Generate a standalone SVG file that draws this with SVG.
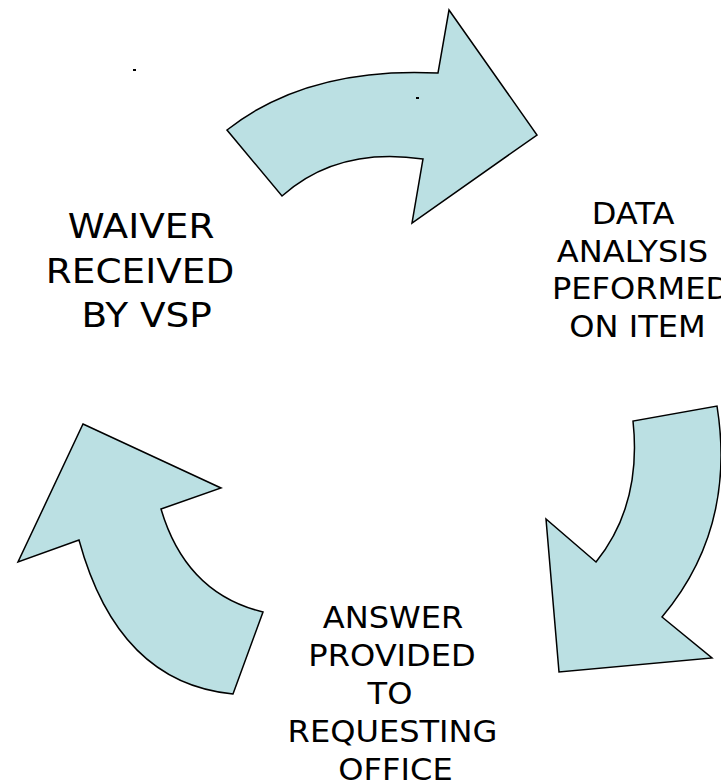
<svg xmlns="http://www.w3.org/2000/svg" width="721" height="783" viewBox="0 0 721 783">
<style>
.arrow{fill:#bbe0e3;stroke:#000;stroke-width:1.5;stroke-linejoin:miter}
.lbl{font-family:"DejaVu Sans",sans-serif;fill:#000;text-anchor:middle}
.l34{font-size:34px}
.l30{font-size:30px}
</style>
<rect width="721" height="783" fill="#fff"/>
<g id="connectors">
<path id="arrow-top" class="arrow" d="M227,130 Q307.5,66.5 438,73 L449,10 L537,135 L412,223 L423,159 Q337.5,146.5 282,196 Z"/>
<path id="arrow-right" class="arrow" d="M717,406 Q736.5,528.5 662,617 L712,658 L559,672 L546,519 L596,562 Q642,505 633,421 Z"/>
<path id="arrow-left" class="arrow" d="M83,424 L221,488 L161,509 Q186,593.5 263,612 L233,694 Q118,683 79,540 L18,562 Z"/>
</g>
<rect x="133" y="69" width="3" height="2" fill="#000"/>
<rect x="416" y="97" width="3" height="2" fill="#000"/>
<g id="node-waiver">
<text class="lbl l34" transform="translate(141,238) scale(1.1,1)">WAIVER</text>
<text class="lbl l34" transform="translate(140,283) scale(1.1,1)">RECEIVED</text>
<text class="lbl l34" transform="translate(146.7,327) scale(1.1,1)">BY VSP</text>
</g>
<g id="node-data">
<text class="lbl l30" transform="translate(633,224) scale(1.07,1)">DATA</text>
<text class="lbl l30" transform="translate(632.5,262) scale(1.07,1)">ANALYSIS</text>
<text class="lbl l30" transform="translate(552,299) scale(1.07,1)" style="text-anchor:start">PEFORMED</text>
<text class="lbl l30" transform="translate(637.5,337) scale(1.07,1)">ON ITEM</text>
</g>
<g id="node-answer">
<text class="lbl l30" transform="translate(393,628) scale(1.07,1)">ANSWER</text>
<text class="lbl l30" transform="translate(392,666) scale(1.07,1)">PROVIDED</text>
<text class="lbl l30" transform="translate(390,704) scale(1.07,1)">TO</text>
<text class="lbl l30" transform="translate(392.5,742) scale(1.07,1)">REQUESTING</text>
<text class="lbl l30" transform="translate(395.5,780) scale(1.07,1)">OFFICE</text>
</g>
</svg>
